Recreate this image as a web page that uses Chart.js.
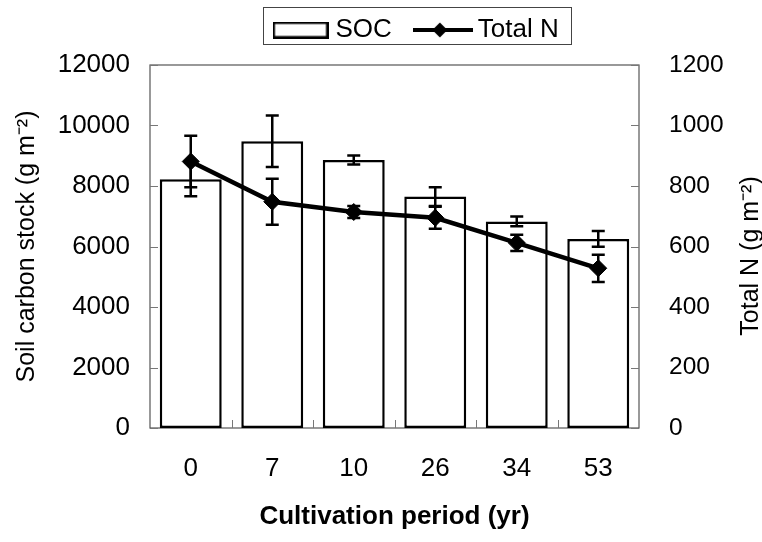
<!DOCTYPE html>
<html><head><meta charset="utf-8">
<script src="https://cdn.jsdelivr.net/npm/chart.js@4.4.1/dist/chart.umd.min.js"></script>
<style>html,body{margin:0;padding:0;background:#fff;}#wrap{width:762px;height:542px;}</style>
</head><body><div id="wrap"><canvas id="c" width="762" height="542"></canvas></div>
<script>
// ---- data ----
const categories = ['0', '7', '10', '26', '34', '53'];
const socValues = [8220, 9480, 8860, 7650, 6830, 6250];
const socErrors = [560, 850, 150, 310, 160, 260];
const nValues = [881, 748, 714, 695, 612, 528];
const nErrors = [85, 76, 20, 36, 27, 45];
const socAxis = { min: 0, max: 12000, step: 2000 };
const nAxis = { min: 0, max: 1200, step: 200 };
const seriesNames = ['SOC', 'Total N'];
const xTitle = 'Cultivation period (yr)';
const yTitle = 'Soil carbon stock (g m⁻²)';
const y1Title = 'Total N (g m⁻²)';

const FONT = 'Arial, "Liberation Sans", sans-serif';
Chart.defaults.font.family = FONT;
Chart.defaults.color = '#000';

// legend symbols
function socSymbol() {
  const c = document.createElement('canvas'); c.width = 56; c.height = 17;
  const g = c.getContext('2d'); g.lineWidth = 2.5; g.strokeStyle = '#000'; g.fillStyle = '#fff';
  g.fillRect(1.25, 1.25, 53.5, 14.5); g.strokeRect(1.25, 1.25, 53.5, 14.5); return c;
}
function nSymbol() {
  const c = document.createElement('canvas'); c.width = 60; c.height = 18;
  const g = c.getContext('2d'); g.strokeStyle = '#000'; g.fillStyle = '#000'; g.lineWidth = 4;
  g.beginPath(); g.moveTo(0, 9); g.lineTo(60, 9); g.stroke();
  g.beginPath(); g.moveTo(27 - 7.5, 9); g.lineTo(27, 1.5); g.lineTo(27 + 7.5, 9); g.lineTo(27, 16.5); g.closePath(); g.fill();
  return c;
}
const symbols = [socSymbol(), nSymbol()];

function drawErr(chart, dsIndex, vals, errs, scaleId) {
  const meta = chart.getDatasetMeta(dsIndex); const sc = chart.scales[scaleId]; const ctx = chart.ctx;
  ctx.save(); ctx.strokeStyle = '#000'; ctx.lineWidth = 2.5; ctx.lineCap = 'butt';
  meta.data.forEach((el, i) => {
    const x = el.x, yT = sc.getPixelForValue(vals[i] + errs[i]), yB = sc.getPixelForValue(vals[i] - errs[i]);
    ctx.beginPath();
    ctx.moveTo(x, yT); ctx.lineTo(x, yB);
    ctx.moveTo(x - 6.5, yT); ctx.lineTo(x + 6.5, yT);
    ctx.moveTo(x - 6.5, yB); ctx.lineTo(x + 6.5, yB);
    ctx.stroke();
  });
  ctx.restore();
}

const decor = {
  id: 'decor',
  beforeDraw(chart) {
    const lg = chart.legend; if (!lg || !lg.legendHitBoxes || !lg.legendHitBoxes.length) return;
    const hb = lg.legendHitBoxes;
    const dx = 278.5 - hb[0].left, dy = 17 - hb[0].top;
    if (dx || dy) {
      lg.left += dx; lg.right += dx; lg.top += dy; lg.bottom += dy;
      hb.forEach(h => { h.left += dx; h.top += dy; });
    }
  },
  beforeDatasetsDraw(chart) {
    const { ctx, chartArea: a } = chart;
    ctx.save();
    ctx.strokeStyle = '#555'; ctx.lineWidth = 1.2;
    ctx.strokeRect(a.left, a.top, a.right - a.left, a.bottom - a.top);
    ctx.strokeStyle = '#777'; ctx.lineWidth = 1;
    const y = chart.scales.y, y1 = chart.scales.y1, x = chart.scales.x;
    ctx.beginPath();
    y.ticks.forEach(t => { const p = Math.round(y.getPixelForValue(t.value)) + 0.5; ctx.moveTo(a.left, p); ctx.lineTo(a.left + 8, p); });
    y1.ticks.forEach(t => { const p = Math.round(y1.getPixelForValue(t.value)) + 0.5; ctx.moveTo(a.right, p); ctx.lineTo(a.right - 8, p); });
    for (let i = 0; i < categories.length - 1; i++) {
      const p = Math.round((x.getPixelForValue(i) + x.getPixelForValue(i + 1)) / 2) + 0.5;
      ctx.moveTo(p, a.bottom); ctx.lineTo(p, a.bottom - 8);
    }
    ctx.stroke();
    // right axis title, reading bottom-to-top like the left one
    ctx.fillStyle = '#000'; ctx.font = '25px ' + FONT;
    ctx.textAlign = 'center'; ctx.textBaseline = 'middle';
    ctx.translate(751, 256); ctx.rotate(-Math.PI / 2);
    ctx.fillText(y1Title, 0, 0);
    ctx.restore();
  },
  afterDatasetDraw(chart, args) { if (args.index === 0) drawErr(chart, 0, socValues, socErrors, 'y'); },
  beforeDatasetDraw(chart, args) { if (args.index === 1) drawErr(chart, 1, nValues, nErrors, 'y1'); },
  afterDraw(chart) {
    const hb = chart.legend && chart.legend.legendHitBoxes; if (!hb || !hb.length) return;
    const last = hb[hb.length - 1]; const ctx = chart.ctx;
    const l = Math.round(hb[0].left - 15.5) + 0.5, r = Math.round(last.left + last.width + 12) + 0.5;
    const t = Math.round(hb[0].top - 10) + 0.5, b = Math.round(hb[0].top + 27) + 0.5;
    ctx.save(); ctx.strokeStyle = '#444'; ctx.lineWidth = 1; ctx.strokeRect(l, t, r - l, b - t); ctx.restore();
  }
};

new Chart(document.getElementById('c'), {
  type: 'bar',
  data: {
    labels: categories,
    datasets: [
      { type: 'bar', label: seriesNames[0], data: socValues, yAxisID: 'y', order: 1,
        backgroundColor: '#fff', borderColor: '#000', borderWidth: 2.5, borderSkipped: false,
        categoryPercentage: 1, barPercentage: 0.76 },
      { type: 'line', label: seriesNames[1], data: nValues, yAxisID: 'y1', order: 0,
        borderColor: '#000', borderWidth: 4.5, tension: 0, fill: false,
        pointStyle: 'rectRot', pointRadius: 8.5, pointBackgroundColor: '#000', pointBorderColor: '#000', pointBorderWidth: 1 }
    ]
  },
  options: {
    responsive: false, animation: false, devicePixelRatio: 1,
    layout: { padding: 0 },
    plugins: {
      tooltip: { enabled: false },
      legend: {
        position: 'top', maxHeight: 73,
        labels: {
          font: { size: 26, family: FONT }, color: '#000', usePointStyle: true, pointStyleWidth: 44, boxHeight: 20, padding: 29,
          generateLabels: () => seriesNames.map((n, i) => ({ text: n, pointStyle: symbols[i], fillStyle: '#000', strokeStyle: '#000', lineWidth: 0, hidden: false, datasetIndex: i, rotation: 0, fontColor: '#000' }))
        }
      }
    },
    scales: {
      x: {
        grid: { display: false }, border: { display: false },
        ticks: { font: { size: 26 }, color: '#000', padding: 17 },
        title: { display: true, text: xTitle, font: { size: 26, weight: 'bold' }, color: '#000', padding: { top: 0, bottom: 10 } },
        afterFit: s => { s.height = 114; }
      },
      y: {
        position: 'left', min: socAxis.min, max: socAxis.max,
        grid: { display: false }, border: { display: false },
        ticks: { stepSize: socAxis.step, font: { size: 26 }, color: '#000', padding: 12, callback: v => String(v) },
        title: { display: true, text: yTitle, font: { size: 25 }, color: '#000', padding: { top: 12, bottom: 0 } },
        afterFit: s => { s.width = 150; }
      },
      y1: {
        position: 'right', min: nAxis.min, max: nAxis.max,
        grid: { display: false }, border: { display: false },
        ticks: { stepSize: nAxis.step, font: { size: 24.5 }, color: '#000', padding: 22, callback: v => String(v) },
        title: { display: false },
        afterFit: s => { s.width = 123; }
      }
    }
  },
  plugins: [decor]
});
</script>
</body></html>
